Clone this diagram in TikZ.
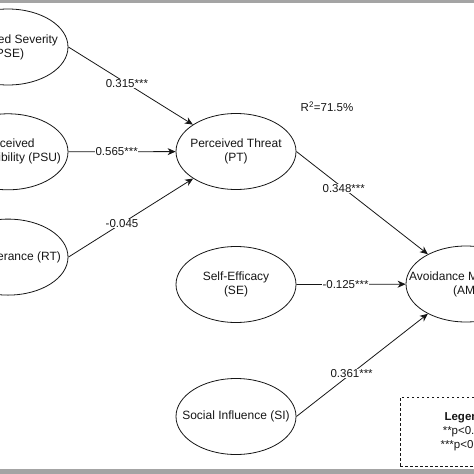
\documentclass[tikz,border=0pt]{standalone}
\usepackage{fontspec}
\setmainfont{Liberation Sans}
\usetikzlibrary{arrows.meta,positioning,shapes.geometric}
\definecolor{ink}{HTML}{161616}
\definecolor{barc}{HTML}{A4A4A4}
\tikzset{
  cons/.style={ellipse,draw=ink,line width=0.8pt,minimum width=120pt,minimum height=76pt,
    inner xsep=-16pt,inner ysep=-4pt,align=center,text=ink,font=\fontsize{12}{14}\selectfont},
  eff/.style={-{Stealth[length=8pt,width=7pt,inset=2.5pt]},line width=0.8pt,color=ink},
  coef/.style={fill=white,inner sep=0.6pt,font=\fontsize{11.5}{13}\selectfont,text=ink},
  legbox/.style={draw=ink,dash pattern=on 2.5pt off 2.5pt,line width=0.7pt,minimum width=130pt,
    minimum height=69pt,align=center,font=\fontsize{11.5}{14}\selectfont,text=ink}
}

\begin{document}
\begin{tikzpicture}[x=1pt,y=-1pt]
  \useasboundingbox (0,0) rectangle (474,474);
  \clip (0,0) rectangle (474,474);
  \fill[barc] (0,0) rectangle (474,3);
  \fill[barc] (0,469) rectangle (474,474);
  % antecedents of threat
  \node[cons] (pse) at (8,47) {Perceived Severity\\(PSE)};
  \node[cons,below=28pt of pse] (psu) {Perceived\\Susceptibility (PSU)};
  \node[cons,below=28.5pt of psu] (rt) {Risk Tolerance (RT)};
  % middle column
  \node[cons] (pt) at (236,151.5) {Perceived Threat\\(PT)};
  \node[cons] (se) at (236,284.5) {Self-Efficacy\\(SE)};
  \node[cons] (si) at (236,416.5) {Social Influence (SI)};
  \node[cons] (am) at (466,284) {Avoidance Motivation\\(AM)};
  \node[coef,fill=none] (r2) at (327,107) {R\textsuperscript{2}=71.5\%};
  \foreach \s/\t/\v/\p in {pse/pt/0.315***/0.47,psu/pt/0.565***/0.45,rt/pt/-0.045/0.43,
      pt/am/0.348***/0.36,se/am/-0.125***/0.45,si/am/0.361***/0.42}{
    \draw[eff] (\s.east) -- (\t) node[coef,pos=\p] {\v};
  }
  \node[legbox] (leg) at (465,431.5) {\textbf{Legend}\\**p<0.05\\***p<0.01};
\end{tikzpicture}
\end{document}
